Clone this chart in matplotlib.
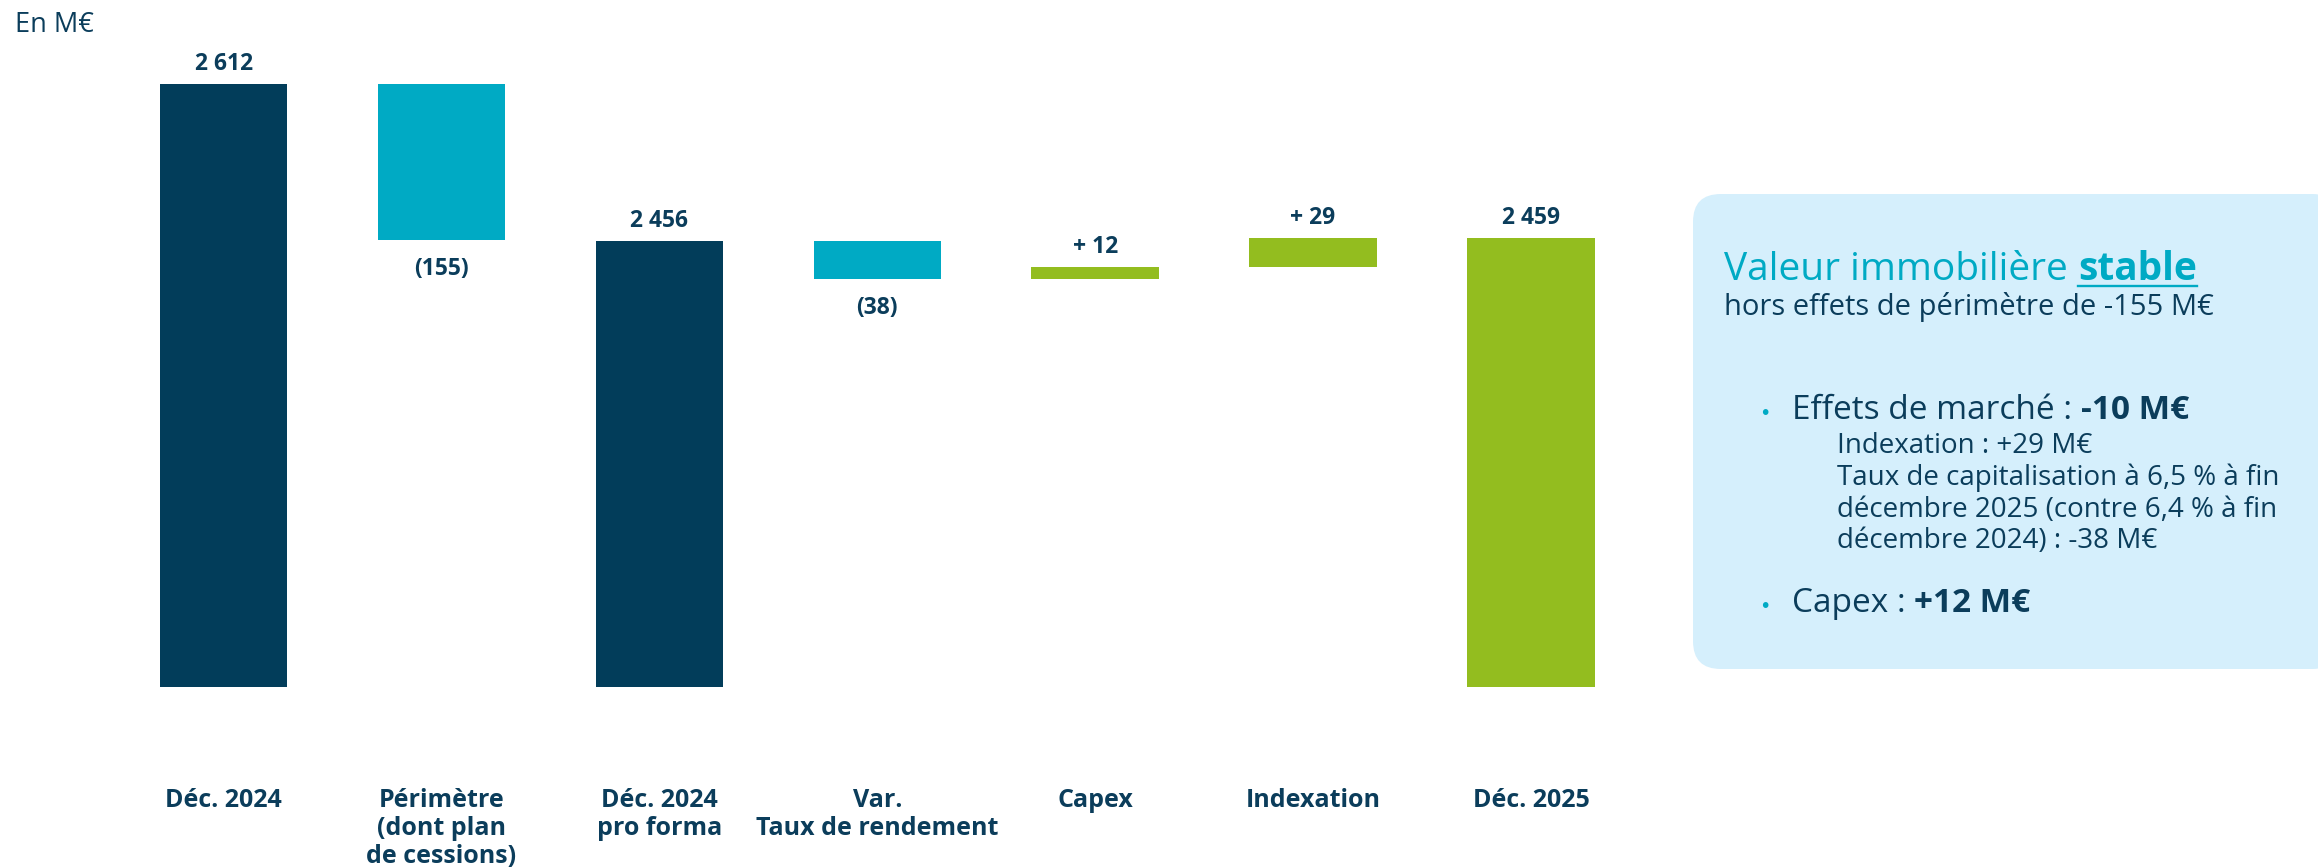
import matplotlib
matplotlib.use("Agg")
import matplotlib.pyplot as plt
from matplotlib.patches import FancyBboxPatch
from matplotlib.lines import Line2D

# ---------------- data ----------------
categories = ["Déc. 2024", "Périmètre\n(dont plan\nde cessions)", "Déc. 2024\npro forma",
              "Var.\nTaux de rendement", "Capex", "Indexation", "Déc. 2025"]
values = [2612, -155, 2456, -38, 12, 29, 2459]
kinds = ["total", "delta", "total", "delta", "delta", "delta", "total"]
value_labels = ["2 612", "(155)", "2 456", "(38)", "+ 12", "+ 29", "2 459"]
axis_floor = 2013  # truncated value axis

NAVY = "#023D5A"
CYAN = "#00AAC4"
GREEN = "#93BD1F"
PANEL = "#D5EFFC"
TEXT = "#0B3D5B"

plt.rcParams['font.family'] = ['Open Sans', 'DejaVu Sans']

W, H = 2318, 868
fig = plt.figure(figsize=(W / 100, H / 100), dpi=100)
ax = fig.add_axes([0, 0, 1, 1])
ax.set_xlim(-1.026, 9.612)
ax.set_ylim(1832.7, 2695.5)
ax.axis('off')

# ---------------- waterfall ----------------
level = None
n_tot = sum(1 for k in kinds if k == "total")
tot_i = 0
for i, (v, k, lab) in enumerate(zip(values, kinds, value_labels)):
    if k == "total":
        tot_i += 1
        bottom, top = axis_floor, v
        color = GREEN if tot_i == n_tot else NAVY
        level = v
    else:
        start = level
        end = level + v
        bottom, top = min(start, end), max(start, end)
        color = CYAN if v < 0 else GREEN
        level = end
    ax.bar(i, top - bottom, bottom=bottom, width=0.585, color=color, linewidth=0)
    if k == "delta" and v < 0:
        ax.annotate(lab, (i, bottom), xytext=(0, -17), textcoords="offset pixels",
                    ha="center", va="top", fontsize=16.5, fontweight="bold", color=TEXT)
    else:
        ax.annotate(lab, (i, top), xytext=(0, 14), textcoords="offset pixels",
                    ha="center", va="baseline", fontsize=16.5, fontweight="bold", color=TEXT)

# category labels
xt = ax.get_xaxis_transform()
for i, c in enumerate(categories):
    for j, line in enumerate(c.split("\n")):
        ax.text(i, 1 - (807 + 28 * j) / H, line, transform=xt, ha="center", va="baseline",
                fontsize=18, fontweight="bold", color=TEXT)

# unit
fig.text(15 / W, 1 - 32 / H, "En M€", fontsize=19.5, color=TEXT, va="baseline", ha="left")

# ---------------- side panel ----------------
px0, py0, px1, py1 = 1693, 194, 2340, 669
panel = FancyBboxPatch((px0 / W, 1 - py1 / H), (px1 - px0) / W, (py1 - py0) / H,
                       boxstyle="round,pad=0,rounding_size=0.012", transform=fig.transFigure,
                       facecolor=PANEL, edgecolor="none", mutation_aspect=W / H)
fig.patches.append(panel)

renderer = fig.canvas.get_renderer()


def put(x, y, s, **kw):
    t = fig.text(x / W, 1 - y / H, s, va="baseline", ha="left", **kw)
    return t, t.get_window_extent(renderer)


t1, bb1 = put(1724, 280, "Valeur immobilière ", fontsize=28, color=CYAN)
t2, bb2 = put(bb1.x1, 280, "stable", fontsize=28, color=CYAN, fontweight="bold")
fig.lines.append(Line2D([bb2.x0 / W, bb2.x1 / W], [1 - 286 / H, 1 - 286 / H],
                        transform=fig.transFigure, color=CYAN, linewidth=1.7))
put(1724, 315, "hors effets de périmètre de -155 M€", fontsize=21, color=TEXT)

put(1759, 419, "•", fontsize=14, color=CYAN, family=["DejaVu Sans"])
a, ba = put(1792, 419, "Effets de marché : ", fontsize=24, color=TEXT)
put(ba.x1, 419, "-10 M€", fontsize=24, color=TEXT, fontweight="bold")
for y, s in [(453, "Indexation : +29 M€"),
             (485, "Taux de capitalisation à 6,5 % à fin"),
             (517, "décembre 2025 (contre 6,4 % à fin"),
             (548, "décembre 2024) : -38 M€")]:
    put(1837, y, s, fontsize=20, color=TEXT)

put(1759, 612, "•", fontsize=14, color=CYAN, family=["DejaVu Sans"])
c, bc = put(1792, 612, "Capex : ", fontsize=24, color=TEXT)
put(bc.x1, 612, "+12 M€", fontsize=24, color=TEXT, fontweight="bold")

fig.savefig("out.png", dpi=100, facecolor="white")
